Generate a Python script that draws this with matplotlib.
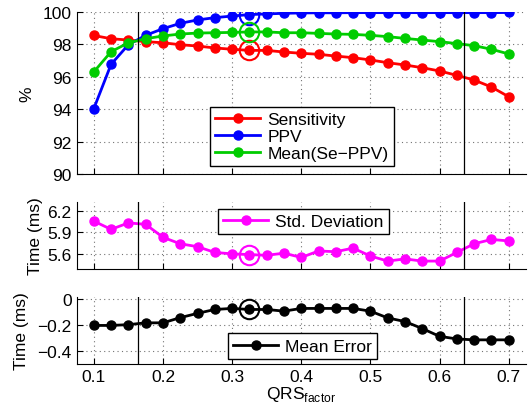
import numpy as np
import matplotlib
matplotlib.use("Agg")
import matplotlib.pyplot as plt

plt.rcParams["font.family"] = ["Liberation Sans", "DejaVu Sans"]
plt.rcParams["font.size"] = 12

# QRS factor values
qrs = [0.1, 0.125, 0.15, 0.175, 0.2, 0.225, 0.25, 0.275, 0.3, 0.325, 0.35, 0.375, 0.4,
       0.425, 0.45, 0.475, 0.5, 0.525, 0.55, 0.575, 0.6, 0.625, 0.65, 0.675, 0.7]

sensitivity = [98.55, 98.35, 98.27, 98.17, 98.10, 97.98, 97.90, 97.78, 97.70, 97.63, 97.63, 97.53, 97.45,
               97.39, 97.28, 97.18, 97.04, 96.87, 96.73, 96.56, 96.36, 96.09, 95.80, 95.37, 94.77]
ppv = [94.03, 96.77, 97.98, 98.56, 98.97, 99.30, 99.51, 99.65, 99.75, 99.84, 99.88, 99.92, 99.94,
       99.95, 99.95, 99.96, 99.96, 99.96, 99.96, 99.96, 99.96, 99.96, 99.96, 99.96, 99.97]
mean_se_ppv = [96.30, 97.55, 98.10, 98.35, 98.52, 98.64, 98.70, 98.72, 98.74, 98.77, 98.77, 98.72, 98.72,
               98.68, 98.64, 98.62, 98.56, 98.48, 98.37, 98.27, 98.17, 98.05, 97.92, 97.70, 97.41]
std_dev = [6.055, 5.94, 6.03, 6.01, 5.83, 5.74, 5.70, 5.62, 5.60, 5.59, 5.58, 5.61, 5.55,
           5.64, 5.63, 5.68, 5.57, 5.50, 5.53, 5.50, 5.50, 5.62, 5.74, 5.80, 5.78]
mean_err = [-0.206, -0.206, -0.200, -0.186, -0.186, -0.146, -0.113, -0.083, -0.075, -0.083, -0.083, -0.096, -0.075,
            -0.075, -0.075, -0.075, -0.096, -0.148, -0.176, -0.230, -0.290, -0.310, -0.317, -0.317, -0.317]

best_qrs = 0.325
limits = [0.1636, 0.636]

W, H = 528, 414
fig = plt.figure(figsize=(W / 100, H / 100), dpi=100)


def make_ax(top, bottom):
    left, right = 76.5, 526
    ax = fig.add_axes([left / W, (H - bottom) / H, (right - left) / W, (bottom - top) / H])
    ax.spines["top"].set_visible(False)
    ax.spines["right"].set_visible(False)
    ax.set_xlim(0.075, 0.725)
    ax.set_xticks([0.1, 0.2, 0.3, 0.4, 0.5, 0.6, 0.7])
    ax.tick_params(direction="in", length=4, labelsize=12.5)
    ax.grid(True, linestyle=(0, (1, 3)), color="0.45", linewidth=0.8)
    return ax


def mark_best(ax, y, color):
    i = qrs.index(best_qrs)
    ax.plot(qrs[i], y[i], "o", ms=14, mfc="none", mec=color, mew=1.5)


ax1 = make_ax(13, 175)
ax2 = make_ax(203, 270)
ax3 = make_ax(298, 365)

kw = dict(marker="o", ms=6.5, lw=2)

ax1.plot(qrs, sensitivity, color="red", label="Sensitivity", **kw)
ax1.plot(qrs, ppv, color="blue", label="PPV", **kw)
ax1.plot(qrs, mean_se_ppv, color="#00cc00", label="Mean(Se\u2212PPV)", **kw)
mark_best(ax1, sensitivity, "red")
mark_best(ax1, ppv, "blue")
mark_best(ax1, mean_se_ppv, "#00cc00")
ax1.set_ylim(90, 100)
ax1.set_yticks([90, 92, 94, 96, 98, 100])
ax1.set_ylabel("%", fontsize=12.5)
ax1.yaxis.set_label_coords(-0.094, 0.5)

ax2.plot(qrs, std_dev, color="magenta", label="Std. Deviation", **kw)
mark_best(ax2, std_dev, "magenta")
ax2.set_ylim(5.39, 6.32)
ax2.set_yticks([5.6, 5.9, 6.2])
ax2.set_ylabel("Time (ms)", fontsize=12.5)
ax2.yaxis.set_label_coords(-0.074, 0.5)

ax3.plot(qrs, mean_err, color="black", label="Mean Error", **kw)
mark_best(ax3, mean_err, "black")
ax3.set_ylim(-0.503, 0.013)
ax3.set_yticks([-0.4, -0.2, 0])
ax3.set_yticklabels(["\u22120.4", "\u22120.2", "0"])
ax3.set_ylabel("Time (ms)", fontsize=12.5)
ax3.yaxis.set_label_coords(-0.105, 0.5)
ax3.set_xlabel("QRS$_{\\mathregular{factor}}$", labelpad=0, fontsize=12.5)

for ax in (ax1, ax2):
    ax.tick_params(labelbottom=False)

legend_kw = dict(loc="lower left", borderaxespad=0, fancybox=False, edgecolor="black",
                 framealpha=1, handlelength=2.6, fontsize=12.5, borderpad=0.3,
                 labelspacing=0.1, handletextpad=0.4)
for ax, anchor in ((ax1, (0.297, 0.049)), (ax2, (0.315, 0.52)), (ax3, (0.337, 0.075))):
    for x in limits:
        ax.axvline(x, color="black", lw=0.9)
    leg = ax.legend(bbox_to_anchor=anchor, **legend_kw)
    leg.get_frame().set_linewidth(1.0)

fig.savefig("out.png", dpi=100)
